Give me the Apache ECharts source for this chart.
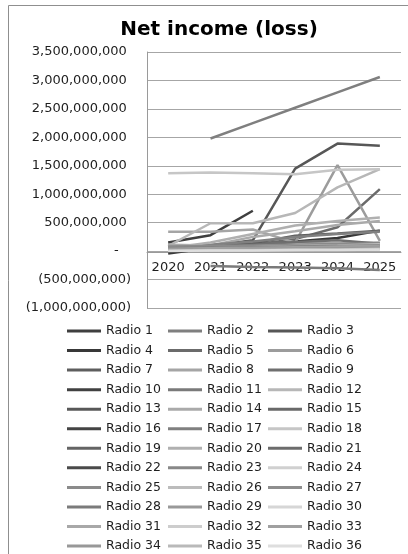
<!DOCTYPE html>
<html>
<head>
<meta charset="utf-8">
<script src="https://cdn.jsdelivr.net/npm/echarts@6/dist/echarts.min.js"></script>
<style>
  html, body { margin: 0; padding: 0; background: #ffffff; }
  #chart { width: 408px; height: 554px; }
</style>
</head>
<body>
<div id="chart"></div>
<script>
// Net income (loss) per station, in millions
const UNIT = 1e6;
const years = ['2020', '2021', '2022', '2023', '2024', '2025'];

const radio1  = [150, 280, 710, null, null, null];
const radio2  = [null, 1980, 2250, 2520, 2790, 3060];
const radio3  = [50, 90, 190, 1450, 1890, 1850];
const radio4  = [-40, 60, 110, 170, 230, 360];
const radio5  = [60, 80, 110, 210, 420, 1090];
const radio6  = [30, 60, 100, 150, 1510, 180];
const radio7  = [40, 90, 140, 270, 310, 360];
const radio8  = [340, 340, 380, 150, 140, 150];
const radio9  = [110, 60, 110, 160, 190, 130];
const radio10 = [70, 80, 90, 100, 110, 90];
const radio11 = [null, -260, -280, -290, -300, -330];
const radio12 = [90, 490, 490, 670, 1120, 1440];
const radio13 = [30, 50, 60, 80, 90, 100];
const radio14 = [110, 100, 250, 350, 460, 530];
const radio15 = [20, 30, 50, 60, 80, 110];
const radio16 = [10, 20, 30, 40, 50, 60];
const radio17 = [60, 110, 170, 250, 300, 340];
const radio18 = [1370, 1380, 1370, 1350, 1430, 1440];
const radio19 = [20, 40, 50, 70, 80, 90];
const radio20 = [50, 150, 300, 450, 530, 590];
const radio21 = [40, 60, 80, 90, 110, 120];
const radio22 = [20, 30, 40, 50, 60, 70];
const radio23 = [60, 70, 80, 100, 120, 140];
const radio24 = [10, 20, 20, 30, 40, 50];
const radio25 = [80, 90, 100, 110, 120, 130];
const radio26 = [40, 50, 70, 90, 100, 120];
const radio27 = [30, 40, 50, 60, 70, 80];
const radio28 = [50, 60, 70, 80, 90, 100];
const radio29 = [20, 30, 40, 50, 60, 70];
const radio30 = [10, 10, 20, 20, 30, 30];
const radio31 = [30, 40, 50, 50, 60, 70];
const radio32 = [10, 20, 30, 30, 40, 40];
const radio33 = [40, 50, 60, 70, 80, 90];
const radio34 = [20, 30, 40, 40, 50, 60];
const radio35 = [10, 20, 20, 30, 30, 40];
const radio36 = [0, 10, 10, 20, 20, 30];

const seriesValues = [
  radio1, radio2, radio3, radio4, radio5, radio6, radio7, radio8, radio9,
  radio10, radio11, radio12, radio13, radio14, radio15, radio16, radio17, radio18,
  radio19, radio20, radio21, radio22, radio23, radio24, radio25, radio26, radio27,
  radio28, radio29, radio30, radio31, radio32, radio33, radio34, radio35, radio36
];
const seriesNames = seriesValues.map((_, i) => 'Radio ' + (i + 1));

// monochrome line palette
const seriesColors = [
  '#3f3f3f', '#7f7f7f', '#575757',
  '#383838', '#6b6b6b', '#9c9c9c',
  '#5e5e5e', '#a5a5a5', '#6f6f6f',
  '#404040', '#7a7a7a', '#b7b7b7',
  '#585858', '#aaaaaa', '#696969',
  '#444444', '#808080', '#c6c6c6',
  '#646464', '#b0b0b0', '#6c6c6c',
  '#4a4a4a', '#888888', '#d0d0d0',
  '#8b8b8b', '#bcbcbc', '#8e8e8e',
  '#7b7b7b', '#999999', '#d6d6d6',
  '#a8a8a8', '#cdcdcd', '#a0a0a0',
  '#989898', '#b9b9b9', '#dedede'
];

const FONT = '"DejaVu Sans", sans-serif';

function fmtAxis(v) {
  if (v === 0) return '-   ';
  const s = Math.abs(v).toLocaleString('en-US');
  return v < 0 ? '(' + s + ')' : s + ' ';
}

function legendColumn(col, left) {
  return {
    orient: 'vertical',
    left: left,
    top: 324,
    height: 240,
    padding: 0,
    itemWidth: 34,
    itemHeight: 3,
    itemGap: 5.55,
    icon: 'rect',
    selectedMode: false,
    textStyle: { fontFamily: FONT, fontSize: 12.5, color: '#1e1e1e', lineHeight: 14 },
    data: seriesNames.filter((_, i) => i % 3 === col)
  };
}

const chart = echarts.init(document.getElementById('chart'), null, { renderer: 'canvas' });

chart.setOption({
  backgroundColor: '#ffffff',
  animation: false,
  color: seriesColors,
  title: {
    text: 'Net income (loss)',
    left: 214,
    top: 15,
    textAlign: 'center',
    textStyle: { fontFamily: FONT, fontSize: 20, fontWeight: 'bold', color: '#000' }
  },
  graphic: [{
    type: 'rect',
    shape: { x: 8.5, y: 5.5, width: 420, height: 570 },
    style: { fill: 'none', stroke: '#8f8f8f', lineWidth: 1 },
    silent: true
  }],
  legend: [legendColumn(0, 67), legendColumn(1, 168), legendColumn(2, 268)],
  grid: { left: 147, right: 7, top: 52, bottom: 246, containLabel: false },
  xAxis: {
    type: 'category',
    data: years,
    boundaryGap: true,
    position: 'bottom',
    // category axis crosses the value axis at zero
    offset: -56,
    axisLine: { show: true, onZero: false, lineStyle: { color: '#9a9a9a', width: 1 } },
    axisTick: { show: false },
    axisLabel: { fontFamily: FONT, fontSize: 13, color: '#1e1e1e', margin: 9, interval: 0 },
    splitLine: { show: false }
  },
  yAxis: {
    type: 'value',
    min: -1e9,
    max: 3.5e9,
    interval: 5e8,
    axisLine: { show: true, lineStyle: { color: '#9a9a9a', width: 1 } },
    axisTick: { show: false },
    axisLabel: { fontFamily: FONT, fontSize: 13, color: '#1e1e1e', margin: 16, formatter: fmtAxis },
    splitLine: { show: true, lineStyle: { color: '#a6a6a6', width: 1 } }
  },
  series: seriesValues.map((vals, i) => ({
    name: seriesNames[i],
    type: 'line',
    data: vals.map(v => (v === null ? null : v * UNIT)),
    symbol: 'none',
    connectNulls: false,
    lineStyle: { width: 2.5, color: seriesColors[i] },
    itemStyle: { color: seriesColors[i] }
  }))
});
</script>
</body>
</html>
